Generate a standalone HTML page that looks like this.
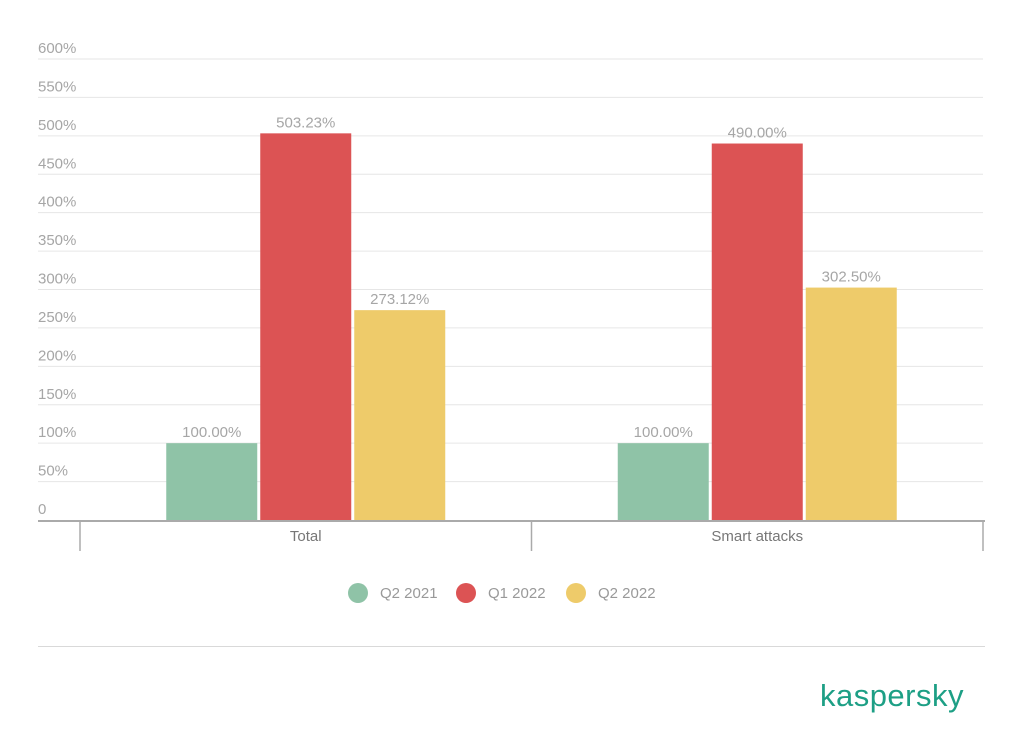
<!DOCTYPE html>
<html><head><meta charset="utf-8">
<style>
html,body{margin:0;padding:0;background:#fff;}
svg{display:block;font-family:"Liberation Sans",Arial,sans-serif;}
</style></head>
<body>
<svg id="chart" width="1023" height="751" viewBox="0 0 1023 751"></svg>
<script>
const categories = ["Total", "Smart attacks"];
const seriesNames = ["Q2 2021", "Q1 2022", "Q2 2022"];
const q2_2021 = [100.00, 100.00];
const q1_2022 = [503.23, 490.00];
const q2_2022 = [273.12, 302.50];
const yTicks = [0, 50, 100, 150, 200, 250, 300, 350, 400, 450, 500, 550, 600];
const colors = ["#8fc3a7", "#dc5354", "#eecb6a"];

const NS = "http://www.w3.org/2000/svg";
const svg = document.getElementById("chart");
function mk(tag, attrs, parent) {
  const e = document.createElementNS(NS, tag);
  for (const k in attrs) e.setAttribute(k, attrs[k]);
  (parent || svg).appendChild(e);
  return e;
}
const x0 = 38, x1 = 983, yBase = 520, yTop = 59, yMax = 600;
function y(v) { return yBase - (v / yMax) * (yBase - yTop); }
const groupLeft = 80, groupW = (x1 - groupLeft) / categories.length;
const barW = 91, barGap = 3;
function barX(ci, si) {
  const groupCenter = groupLeft + groupW * (ci + 0.5);
  const total = 3 * barW + 2 * barGap;
  return groupCenter - total / 2 + si * (barW + barGap);
}

// gridlines & y labels
yTicks.forEach(t => {
  if (t > 0) {
    const g = mk("line", {x1: x0, x2: x1, y1: y(t), y2: y(t), stroke: "#e6e6e6", "stroke-width": 1});
    
    
  }
  const lb = mk("text", {x: x0, y: y(t) - 6, fill: "#a6a6a6", "font-size": 15});
  lb.textContent = t === 0 ? "0" : t + "%";
  
  
});

// bars
const series = [q2_2021, q1_2022, q2_2022];
series.forEach((vals, si) => {
  vals.forEach((v, ci) => {
    const bx = barX(ci, si);
    const r = mk("rect", {x: bx, y: y(v), width: barW, height: yBase - y(v), fill: colors[si]});
    
    
    const t = mk("text", {x: bx + barW / 2, y: y(v) - 6, fill: "#a6a6a6", "font-size": 15, "text-anchor": "middle"});
    t.textContent = v.toFixed(2) + "%";
    
    
  });
});

// axis
const ax = mk("line", {x1: x0, x2: x1 + 2, y1: yBase + 1, y2: yBase + 1, stroke: "#aaaaaa", "stroke-width": 2});


for (let i = 0; i <= categories.length; i++) {
  const tx = groupLeft + groupW * i;
  const tk = mk("line", {x1: tx, x2: tx, y1: yBase + 2, y2: 551, stroke: "#aaaaaa", "stroke-width": 1.5});
  
  
}
categories.forEach((c, ci) => {
  const t = mk("text", {x: groupLeft + groupW * (ci + 0.5), y: 541, fill: "#777", "font-size": 15, "text-anchor": "middle"});
  t.textContent = c;
  
  
});

// legend
const legX = [358, 466, 576];
seriesNames.forEach((n, i) => {
  const c = mk("circle", {cx: legX[i], cy: 593, r: 10, fill: colors[i]});
  
  
  const t = mk("text", {x: legX[i] + 22, y: 598, fill: "#999", "font-size": 15});
  t.textContent = n;
  
  
});

// bottom rule
const br = mk("line", {x1: x0, x2: x1 + 2, y1: 646.5, y2: 646.5, stroke: "#d9d9d9", "stroke-width": 1});



// logo
const logo = mk("text", {x: 964, y: 706, fill: "#1d9f85", "font-size": 31, "text-anchor": "end", "letter-spacing": "0.5"});
logo.textContent = "kaspersky";


</script>
</body></html>
